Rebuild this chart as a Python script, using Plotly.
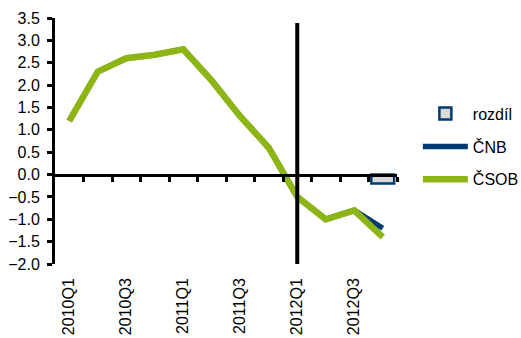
import plotly.graph_objects as go

categories = ["2010Q1", "2010Q2", "2010Q3", "2010Q4", "2011Q1", "2011Q2",
              "2011Q3", "2011Q4", "2012Q1", "2012Q2", "2012Q3", "2012Q4"]
csob = [1.2, 2.3, 2.6, 2.68, 2.8, 2.1, 1.3, 0.6, -0.5, -1.0, -0.8, -1.4]
cnb = [1.2, 2.3, 2.6, 2.68, 2.8, 2.1, 1.3, 0.6, -0.5, -1.0, -0.8, -1.2]
rozdil = [None] * 11 + [-0.2]
tick_labels = ["2010Q1", "", "2010Q3", "", "2011Q1", "", "2011Q3", "", "2012Q1", "", "2012Q3", ""]

xs = list(range(len(categories)))
FONT = "Liberation Sans, Arial, sans-serif"

fig = go.Figure()
fig.add_trace(go.Bar(x=xs, y=rozdil, name="rozdíl", width=0.8,
                     marker=dict(color="#D9D9D9", line=dict(color="#003A70", width=2.5)),
                     legendgroup="a"))
fig.add_trace(go.Scatter(x=xs, y=cnb, name="ČNB", mode="lines",
                         line=dict(color="#003A70", width=5.5), legendgroup="b"))
fig.add_trace(go.Scatter(x=xs, y=csob, name="ČSOB", mode="lines",
                         line=dict(color="#8DB516", width=6.5), legendgroup="c"))
# invisible trace to activate the overlay axis drawn at zero
fig.add_trace(go.Scatter(x=[0], y=[0], xaxis="x2", mode="markers",
                         marker=dict(opacity=0), showlegend=False, hoverinfo="skip"))

fig.add_shape(type="line", x0=8, x1=8, y0=-2.0, y1=3.39, xref="x", yref="y",
              line=dict(color="black", width=4))

fig.update_layout(
    width=521, height=338,
    margin=dict(l=55, r=124, t=18, b=74, autoexpand=False),
    paper_bgcolor="white", plot_bgcolor="white",
    font=dict(family=FONT, size=15, color="black"),
    showlegend=True,
    legend=dict(x=1.061, y=0.68, xanchor="left", yanchor="top",
                font=dict(size=16), itemwidth=45, tracegroupgap=9,
                traceorder="grouped", bgcolor="rgba(0,0,0,0)"),
    xaxis=dict(range=[-0.5, 11.5], tickmode="array", tickvals=xs, ticktext=tick_labels,
               tickangle=-90, showline=False, showgrid=False, zeroline=False,
               ticks="", ticklabelstandoff=10, tickfont=dict(size=16)),
    xaxis2=dict(overlaying="x", anchor="free", position=2.0 / 5.5, range=[-0.5, 11.5],
                side="bottom", tickmode="array", tickvals=[x + 0.5 for x in xs[:-1]] + [11.5],
                showticklabels=False, showline=True, linecolor="black", linewidth=3,
                ticks="outside", ticklen=5, tickwidth=3, tickcolor="black",
                showgrid=False, zeroline=False),
    yaxis=dict(range=[-2.0, 3.5], dtick=0.5, tickformat=".1f", showgrid=False,
               zeroline=False, showline=True, linecolor="black", linewidth=3,
               ticks="outside", ticklen=5, tickwidth=3, tickcolor="black",
               ticklabelstandoff=4, tickfont=dict(size=16)),
    bargap=0.2,
)

fig.write_html("out.html")
